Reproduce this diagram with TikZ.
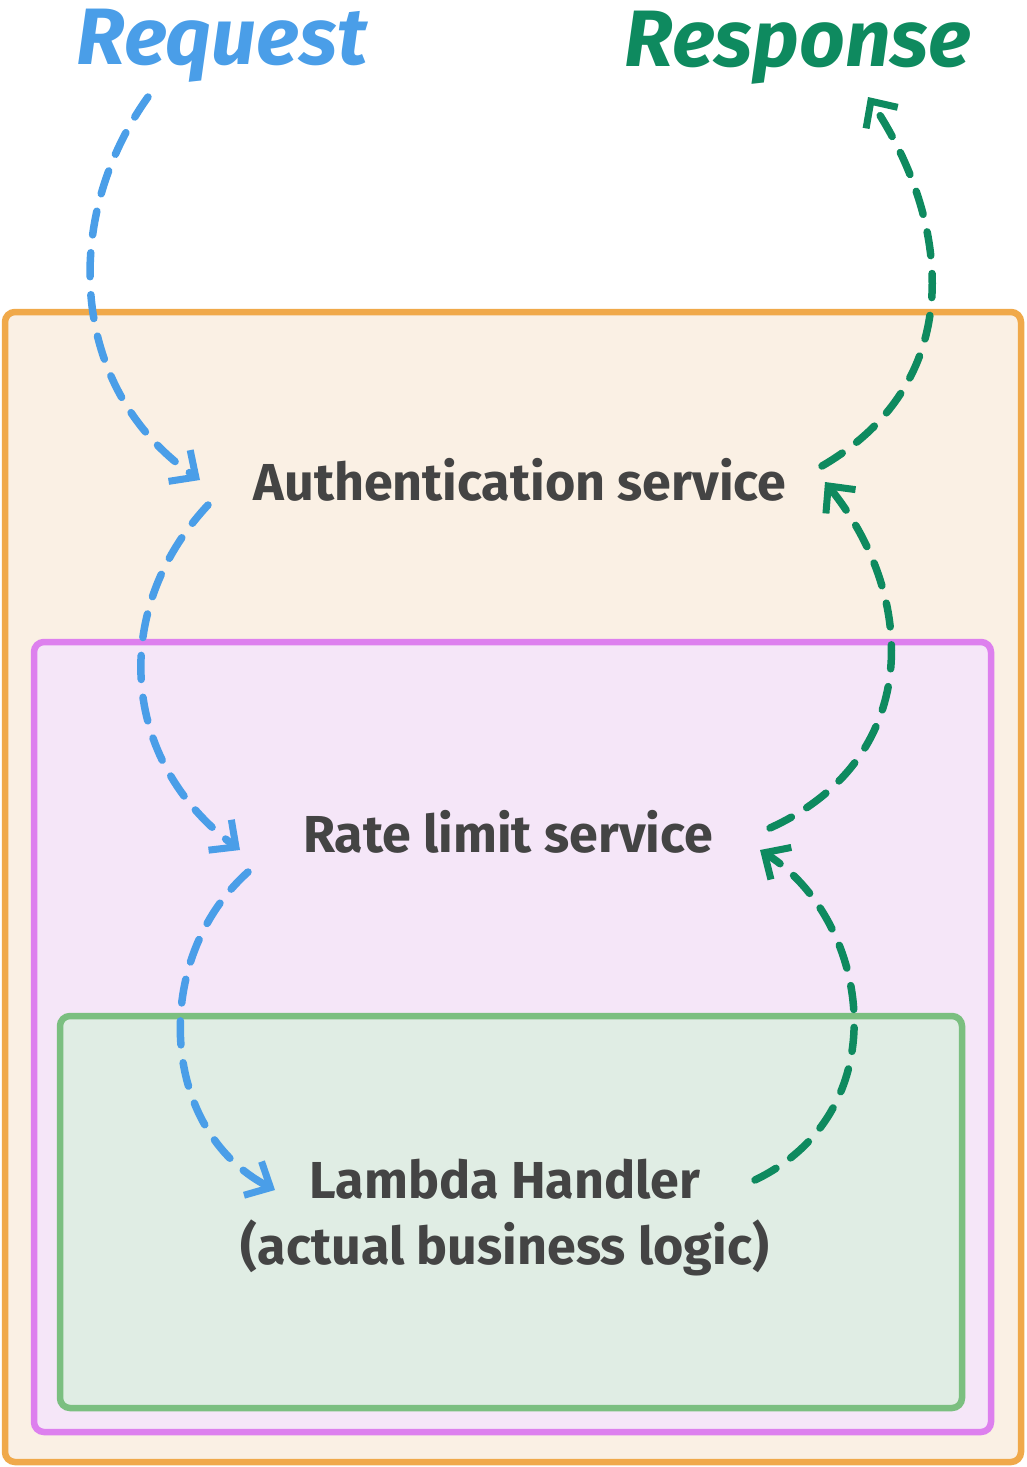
\documentclass[tikz,border=0pt]{standalone}
\usepackage{fontspec}
\setmainfont{Fira Sans}
\usetikzlibrary{arrows.meta}
\definecolor{ob}{HTML}{F0A94A}\definecolor{of}{HTML}{FAF0E4}
\definecolor{pb}{HTML}{DD80EE}\definecolor{pf}{HTML}{F5E6F8}
\definecolor{gb}{HTML}{7BBF80}\definecolor{gf}{HTML}{E0EDE4}
\definecolor{bl}{HTML}{4A9EE8}\definecolor{gr}{HTML}{0E8A5F}
\definecolor{tx}{HTML}{444444}
\begin{document}
\begin{tikzpicture}[x=1pt,y=-1pt,
 box/.style={line width=6.5pt,rounded corners=10pt},
 lbl/.style={text=tx,font=\fontsize{52}{66}\selectfont\bfseries,align=center},
 ttl/.style={font=\fontsize{80}{90}\selectfont\bfseries\itshape},
 flow/.style={line width=7.5pt,dash pattern=on 24pt off 18pt,line cap=round,-{Straight Barb[length=20pt,width=38pt,line width=7pt]}}]
\useasboundingbox (0,0) rectangle (1026,1467);
\draw[box,draw=ob,fill=of] (5,312) rectangle (1021,1462);
\draw[box,draw=pb,fill=pf] (34,642) rectangle (991,1432);
\draw[box,draw=gb,fill=gf] (60,1016) rectangle (962,1408);
\node[ttl,text=bl] (req) at (222,46) {Request};
\node[ttl,text=gr] (resp) at (798,48) {Response};
\node[lbl] (auth) at (520,480) {Authentication service};
\node[lbl] (rate) at (508,832) {Rate limit service};
\node[lbl] (lam) at (505,1218) {Lambda Handler\\(actual business logic)};
\coordinate (a1) at (148,97); \coordinate (a2) at (200,480);
\coordinate (b1) at (208,505); \coordinate (b2) at (240,850);
\coordinate (c1) at (248,872); \coordinate (c2) at (275,1190);
\coordinate (d1) at (755,1180); \coordinate (d2) at (760,850);
\coordinate (e1) at (770,828); \coordinate (e2) at (825,482);
\coordinate (f1) at (822,466); \coordinate (f2) at (868,97);
\draw[flow,bl] (a1) .. controls (60,220) and (70,390) .. (a2);
\draw[flow,bl] (b1) .. controls (110,610) and (120,760) .. (b2);
\draw[flow,bl] (c1) .. controls (150,960) and (160,1130) .. (c2);
\draw[flow,gr] (d1) .. controls (900,1110) and (870,920) .. (d2);
\draw[flow,gr] (e1) .. controls (920,760) and (920,600) .. (e2);
\draw[flow,gr] (f1) .. controls (970,380) and (950,220) .. (f2);
\end{tikzpicture}
\end{document}
